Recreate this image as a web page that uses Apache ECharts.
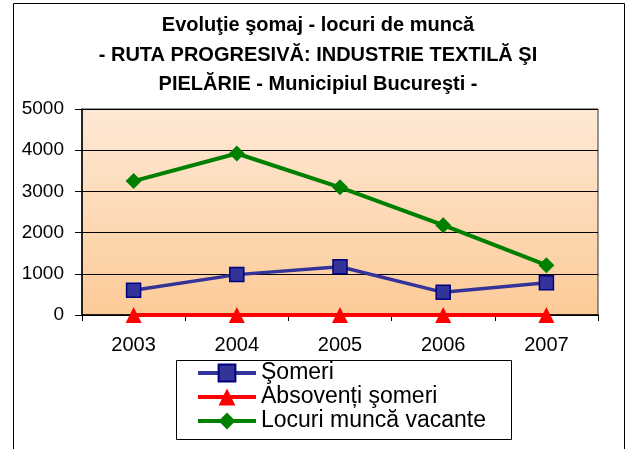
<!DOCTYPE html>
<html>
<head>
<meta charset="utf-8">
<script src="https://cdn.jsdelivr.net/npm/echarts@6/dist/echarts.min.js"></script>
<style>
  html, body { margin: 0; padding: 0; background: #fff; }
  #chart { width: 630px; height: 449px; }
</style>
</head>
<body>
<div id="chart"></div>
<script>
// date
const years = ['2003', '2004', '2005', '2006', '2007']
const someri = [600, 980, 1170, 550, 780]
const absolventiSomeri = [0, 0, 0, 0, 0]
const locuriVacante = [3250, 3920, 3100, 2180, 1210]
const yTicks = [0, 1000, 2000, 3000, 4000, 5000]

const font = '"Liberation Sans", Arial, sans-serif'

const chart = echarts.init(document.getElementById('chart'))

chart.setOption({
  animation: false,
  textStyle: { fontFamily: font },
  title: {
    text: 'Evoluţie şomaj - locuri de muncă\n- RUTA PROGRESIVĂ: INDUSTRIE TEXTILĂ ŞI\nPIELĂRIE - Municipiul Bucureşti -',
    left: 318,
    textAlign: 'center',
    top: 11,
    padding: 0,
    textStyle: {
      fontFamily: font,
      fontSize: 20,
      fontWeight: 'bold',
      color: '#000',
      lineHeight: 29.5,
    },
  },
  graphic: [
    {
      type: 'rect',
      shape: { x: 13.5, y: 3.5, width: 611, height: 470 },
      style: { fill: 'none', stroke: '#000', lineWidth: 1 },
      silent: true,
    },
    {
      // cadrul legendei
      type: 'rect',
      shape: { x: 176.5, y: 360.5, width: 335, height: 79 },
      style: { fill: 'none', stroke: '#000', lineWidth: 1 },
      silent: true,
    },
  ],
  legend: {
    left: 196,
    top: 361,
    orient: 'vertical',
    padding: 0,
    itemWidth: 58,
    itemHeight: 21,
    itemGap: 0,
    lineStyle: { width: 4 },
    textStyle: { fontFamily: font, fontSize: 23, lineHeight: 24, color: '#000', padding: [0, 0, 0, 0] },
  },
  grid: {
    left: 82,
    right: 32,
    top: 109,
    bottom: 134,
    show: true,
    borderColor: '#333',
    borderWidth: 1,
    backgroundColor: new echarts.graphic.LinearGradient(0, 0, 0, 1, [
      { offset: 0, color: '#fee9d6' },
      { offset: 1, color: '#fcca97' },
    ]),
  },
  xAxis: {
    type: 'category',
    data: years,
    axisLine: { lineStyle: { color: '#000', width: 1.5 } },
    axisTick: { show: true, length: 6, lineStyle: { color: '#000' } },
    axisLabel: { fontSize: 20, color: '#000', margin: 20, fontFamily: font },
  },
  yAxis: {
    type: 'value',
    min: yTicks[0],
    max: yTicks[yTicks.length - 1],
    interval: 1000,
    axisLine: { show: true, lineStyle: { color: '#000', width: 1.5 } },
    axisTick: { show: true, length: 7, lineStyle: { color: '#000' } },
    axisLabel: { fontSize: 19, color: '#000', margin: 18, fontFamily: font, formatter: (v) => String(v) },
    splitLine: { lineStyle: { color: '#000', width: 1 } },
  },
  series: [
    {
      name: 'Şomeri',
      type: 'line',
      data: someri,
      symbol: 'rect',
      symbolSize: 14,
      lineStyle: { color: '#333399', width: 3.5 },
      itemStyle: { color: '#333399', borderColor: '#000080', borderWidth: 1.5 },
      z: 3,
    },
    {
      name: 'Absovenți şomeri',
      type: 'line',
      data: absolventiSomeri,
      symbol: 'triangle',
      symbolSize: 16,
      lineStyle: { color: '#ff0000', width: 4 },
      itemStyle: { color: '#ff0000' },
      z: 4,
    },
    {
      name: 'Locuri muncă vacante',
      type: 'line',
      data: locuriVacante,
      symbol: 'diamond',
      symbolSize: 16,
      lineStyle: { color: '#008000', width: 4 },
      itemStyle: { color: '#008000' },
      z: 3,
    },
  ],
})
</script>
</body>
</html>
